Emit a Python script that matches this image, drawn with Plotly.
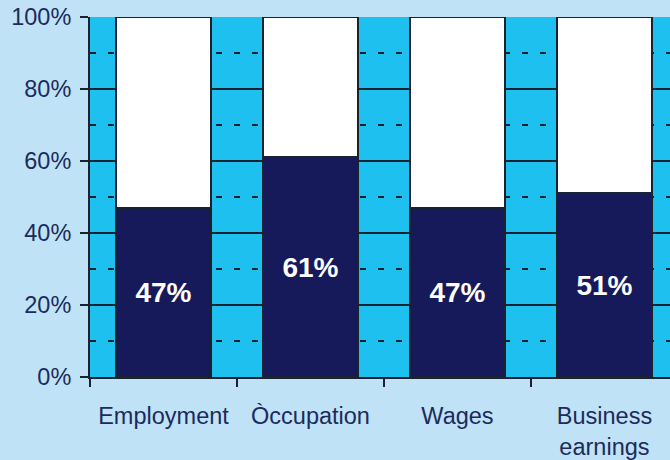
import plotly.graph_objects as go

categories = ["Employment", "Òccupation", "Wages", "Business<br>earnings"]
share = [47, 61, 47, 51]
remainder = [100 - v for v in share]
labels = [f"{v}%" for v in share]

navy = "#16195A"
cyan = "#1EC0F0"
paper = "#C0E2F7"
ink = "#1C2B5B"
line = "#1A2230"

fig = go.Figure()
fig.add_trace(go.Bar(
    x=categories, y=share, text=labels, textposition="inside",
    insidetextanchor="middle",
    textfont=dict(family="Liberation Sans", size=28, color="white", weight="bold"),
    marker=dict(color=navy, line=dict(color=line, width=2)),
    width=0.65, hoverinfo="skip",
))
fig.add_trace(go.Bar(
    x=categories, y=remainder,
    marker=dict(color="white", line=dict(color=line, width=2)),
    width=0.65, hoverinfo="skip",
))

fig.update_layout(
    width=670, height=460,
    barmode="stack", showlegend=False,
    paper_bgcolor=paper, plot_bgcolor=cyan,
    margin=dict(l=90, r=0, t=17, b=79),
    font=dict(family="Liberation Sans", size=23.5, color=ink),
)
fig.update_xaxes(
    range=[-0.5, 3.446], tickson="boundaries",
    ticks="outside", ticklen=8, tickwidth=2, tickcolor=line,
    showline=True, linecolor=line, linewidth=2,
    showgrid=False, ticklabelstandoff=17,
    tickfont=dict(size=23.5, color=ink),
)
fig.update_yaxes(
    range=[0, 100], dtick=20, ticksuffix="%",
    ticks="outside", ticklen=8, tickwidth=2, tickcolor=line,
    showline=True, linecolor=line, linewidth=2,
    showgrid=True, gridcolor=line, gridwidth=2,
    minor=dict(dtick=10, showgrid=True, gridcolor=line, gridwidth=2,
               griddash="6px,12px", ticks=""),
    tickfont=dict(size=23.5, color=ink), ticklabelstandoff=4,
    zeroline=False,
)

fig.write_html(
    "out.html",
    config={"displayModeBar": False},
    post_script="document.body.style.margin='0';document.body.style.overflow='hidden';",
)
